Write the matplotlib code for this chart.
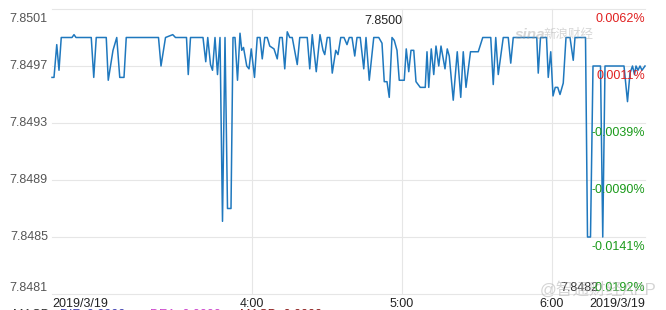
"""
USD/HKD intraday minute line, 2019/3/19 (Sina style)
"""

import matplotlib
matplotlib.use('Agg')
import matplotlib.pyplot as plt
from matplotlib.transforms import offset_copy

plt.rcParams['font.family'] = ['Liberation Sans', 'Noto Sans CJK SC', 'DejaVu Sans']

# minutes after midnight
minutes = [
    160.0, 160.8, 161.9, 162.8, 163.7, 168.0, 168.8, 169.6, 175.7, 176.7,
    177.7, 181.7, 182.5, 184.4, 185.9, 187.1, 188.8, 189.7, 202.6, 203.6,
    205.4, 208.3, 209.4, 213.8, 214.5, 215.4, 220.4, 221.5, 222.3, 223.4,
    224.2, 225.2, 226.2, 227.2, 228.2, 229.2, 230.2, 231.6, 232.4, 233.2,
    234.2, 235.2, 235.9, 236.6, 237.9, 238.8, 239.7, 241.0, 242.1, 243.2,
    244.1, 245.1, 246.1, 247.1, 248.8, 250.1, 251.1, 252.1, 253.1, 254.1,
    255.1, 256.1, 258.1, 259.1, 262.1, 263.1, 264.1, 265.7, 267.2, 268.4,
    269.1, 270.1, 271.1, 272.1, 273.5, 274.4, 275.5, 276.8, 278.0, 278.9,
    280.0, 281.1, 282.0, 283.3, 284.7, 285.6, 286.9, 288.7, 290.7, 292.0,
    292.9, 294.0, 294.9, 296.0, 296.9, 298.0, 298.9, 300.9, 301.7, 302.7,
    303.6, 304.7, 305.6, 307.3, 309.3, 310.0, 310.7, 311.7, 312.7, 313.6,
    314.7, 315.6, 317.2, 318.1, 318.9, 320.5, 322.1, 323.5, 324.5, 325.6,
    327.4, 330.5, 332.3, 335.5, 336.5, 337.5, 338.5, 340.5, 342.5, 343.5,
    344.5, 353.9, 354.5, 355.4, 357.8, 358.5, 359.5, 360.4, 361.3, 362.3,
    363.2, 364.5, 365.6, 367.2, 368.5, 369.2, 373.4, 374.2, 375.4, 376.4,
    379.4, 380.3, 381.2, 388.8, 390.2, 391.2, 392.2, 393.0, 393.6, 394.4,
    395.2, 396.0, 397.2,
]

prices = [
    7.84962, 7.84962, 7.84985, 7.84967, 7.84990, 7.84990, 7.84992, 7.84990, 7.84990, 7.84962,
    7.84990, 7.84990, 7.84960, 7.84981, 7.84990, 7.84962, 7.84962, 7.84990, 7.84990, 7.84970,
    7.84990, 7.84992, 7.84990, 7.84990, 7.84964, 7.84990, 7.84990, 7.84973, 7.84990, 7.84971,
    7.84967, 7.84990, 7.84964, 7.84990, 7.84861, 7.84990, 7.84870, 7.84870, 7.84990, 7.84990,
    7.84960, 7.84993, 7.84981, 7.84983, 7.84970, 7.84968, 7.84982, 7.84962, 7.84990, 7.84990,
    7.84975, 7.84990, 7.84990, 7.84984, 7.84982, 7.84975, 7.84990, 7.84990, 7.84968, 7.84994,
    7.84990, 7.84990, 7.84971, 7.84990, 7.84990, 7.84968, 7.84992, 7.84966, 7.84992, 7.84981,
    7.84978, 7.84990, 7.84990, 7.84965, 7.84981, 7.84978, 7.84990, 7.84990, 7.84985, 7.84990,
    7.84990, 7.84977, 7.84990, 7.84990, 7.84968, 7.84990, 7.84960, 7.84990, 7.84990, 7.84986,
    7.84959, 7.84959, 7.84948, 7.84990, 7.84988, 7.84981, 7.84960, 7.84960, 7.84982, 7.84966,
    7.84981, 7.84981, 7.84959, 7.84955, 7.84955, 7.84980, 7.84955, 7.84982, 7.84964, 7.84984,
    7.84970, 7.84984, 7.84968, 7.84982, 7.84977, 7.84946, 7.84980, 7.84948, 7.84980, 7.84955,
    7.84980, 7.84980, 7.84990, 7.84990, 7.84957, 7.84990, 7.84964, 7.84990, 7.84990, 7.84972,
    7.84990, 7.84990, 7.84965, 7.84990, 7.84990, 7.84962, 7.84980, 7.84949, 7.84955, 7.84955,
    7.84950, 7.84958, 7.84990, 7.84990, 7.84974, 7.84990, 7.84990, 7.84850, 7.84850, 7.84970,
    7.84970, 7.84850, 7.84970, 7.84970, 7.84945, 7.84965, 7.84970, 7.84964, 7.84970, 7.84967,
    7.84970, 7.84967, 7.84970,
]

price_ticks = [7.8501, 7.8497, 7.8493, 7.8489, 7.8485, 7.8481]
price_labels = ['7.8501', '7.8497', '7.8493', '7.8489', '7.8485', '7.8481']
pct_labels = ['0.0062%', '0.0011%', '-0.0039%', '-0.0090%', '-0.0141%', '-0.0192%']
hour_ticks = [240, 300, 360]
hour_labels = ['4:00', '5:00', '6:00']
date_label = '2019/3/19'
prev_close = '7.8500'
low_label = '7.8482'
macd_parts = ['MACD', 'DIF: 0.0000', 'DEA: 0.0000', 'MACD: 0.0000']

W, H = 666, 310
fig = plt.figure(figsize=(W / 100, H / 100), dpi=100)
ax = fig.add_axes([52 / W, 16 / H, 593 / W, 285 / H])

grid_c = '#e6e6e6'
for v in price_ticks:
    ax.axhline(v, color=grid_c, lw=0.8, clip_on=False, zorder=0)
for t in hour_ticks:
    ax.axvline(t, color=grid_c, lw=0.8, clip_on=False, zorder=0)

ax.plot(minutes, prices, color='#1f78be', lw=1.1, zorder=3, clip_on=False)

ax.set_xlim(160, 397.2)
ax.set_ylim(7.8481, 7.8501)
ax.set_xticks([])
ax.set_yticks([])
for s in ax.spines.values():
    s.set_visible(False)
ax.patch.set_alpha(0)

ytr = ax.get_yaxis_transform()
ytr_down = offset_copy(ytr, fig=fig, y=-4, units='dots')

# left price labels
for i, (v, lab) in enumerate(zip(price_ticks, price_labels)):
    if i == 0:
        ax.text(-0.007, v, lab, transform=ytr_down, ha='right', va='top',
                fontsize=9, color='#555555')
    else:
        va = 'bottom' if i == len(price_ticks) - 1 else 'center'
        ax.text(-0.007, v, lab, transform=ytr, ha='right', va=va,
                fontsize=9, color='#555555')

# right percent labels
for i, (v, lab) in enumerate(zip(price_ticks, pct_labels)):
    col = '#e02020' if not lab.startswith('-') else '#1a9a1a'
    if i == len(price_ticks) - 1:
        ax.text(1.0, v, lab, transform=ytr, ha='right', va='bottom',
                fontsize=9, color=col, zorder=4)
    else:
        ax.text(1.0, v, lab, transform=ytr_down, ha='right', va='top',
                fontsize=9, color=col, zorder=4)

# x labels
xtr = ax.get_xaxis_transform()
for t, lab in zip(hour_ticks, hour_labels):
    ax.text(t, -0.014, lab, transform=xtr, ha='center', va='top',
            fontsize=9, color='#222222')
ax.text(0.0, -0.014, date_label, transform=ax.transAxes, ha='left', va='top',
        fontsize=9, color='#222222')
ax.text(1.0, -0.014, date_label, transform=ax.transAxes, ha='right', va='top',
        fontsize=9, color='#222222')

# previous close and day low
ax.text(300, 0.958, prev_close, transform=xtr, ha='right', va='center',
        fontsize=9, color='#222222')
ax.text(0.9207, 7.8481, low_label, transform=ytr, ha='right', va='bottom',
        fontsize=9, color='#333333')

# MACD legend row, mostly cut off by the bottom edge
macd_x = [13, 60, 150, 240]
macd_c = ['#333333', '#4040b0', '#cc44cc', '#8b1a1a']
for x, s, c in zip(macd_x, macd_parts, macd_c):
    fig.text(x / W, 1 / H, s, ha='left', va='top', fontsize=9, color=c)

# watermarks
fig.text(515 / W, 1 - 35 / H, 'sina', ha='left', va='center', fontsize=11,
         fontweight='bold', style='italic', color='#999999', alpha=0.4)
fig.text(543 / W, 1 - 35 / H, '新浪财经', ha='left', va='center', fontsize=9,
         color='#999999', alpha=0.4)
fig.text(540 / W, 1 - 290 / H, '@智通财经APP', ha='left', va='center',
         fontsize=12, color='#aaaaaa', alpha=0.5)

fig.savefig('out.png', dpi=100)
